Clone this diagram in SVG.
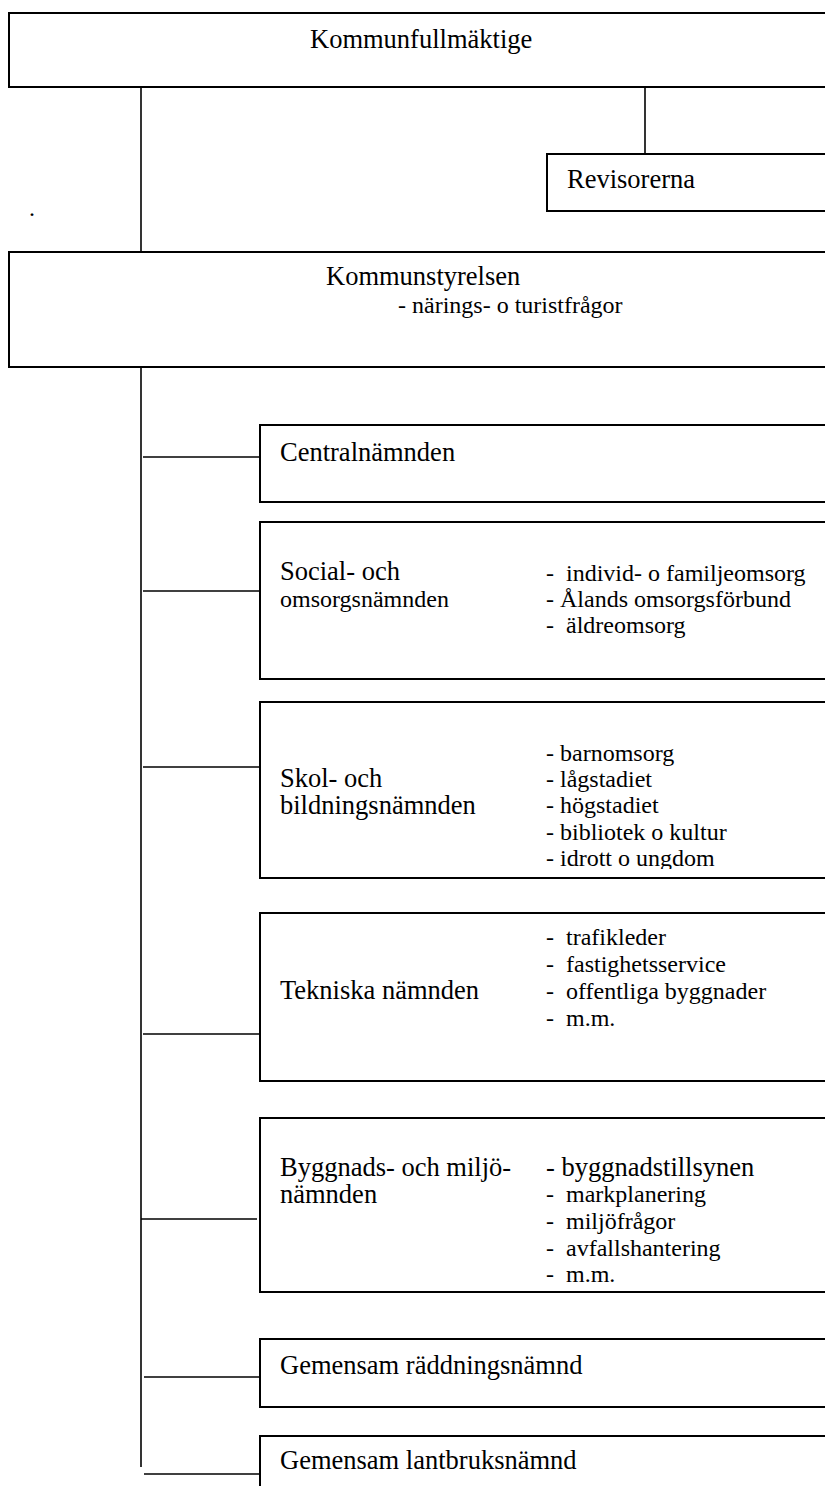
<svg xmlns="http://www.w3.org/2000/svg" width="825" height="1486" viewBox="0 0 825 1486">
<style>
.box{fill:#fff;stroke:#000;stroke-width:2}
.ln{stroke:#000;stroke-width:1.6;fill:none}
.t{font-family:'Liberation Serif','Times New Roman',Tinos,'DejaVu Serif',serif;font-size:26.5px;fill:#000}
.s{font-family:'Liberation Serif','Times New Roman',Tinos,'DejaVu Serif',serif;font-size:24px;fill:#000}
</style>
<defs>
<clipPath id="clipSkol"><rect x="260" y="702" width="570" height="167"/></clipPath>
</defs>
<g id="connectors">
<line class="ln" x1="141" y1="87" x2="141" y2="252"/>
<line class="ln" x1="645" y1="87" x2="645" y2="154"/>
<line class="ln" x1="141" y1="367" x2="141" y2="1467"/>
<line class="ln" x1="143" y1="457" x2="260" y2="457"/>
<line class="ln" x1="143" y1="591" x2="260" y2="591"/>
<line class="ln" x1="143" y1="767" x2="260" y2="767"/>
<line class="ln" x1="143" y1="1034" x2="260" y2="1034"/>
<line class="ln" x1="141" y1="1219" x2="257" y2="1219"/>
<line class="ln" x1="144" y1="1377" x2="260" y2="1377"/>
<line class="ln" x1="144" y1="1474" x2="260" y2="1474"/>
</g>
<g id="kommunfullmaktige">
<rect class="box" x="9" y="13" width="830" height="74"/>
<text class="t" x="310" y="48">Kommunfullmäktige</text>
</g>
<g id="revisorerna">
<rect class="box" x="547" y="154" width="290" height="57"/>
<text class="t" x="567" y="188">Revisorerna</text>
</g>
<g id="dot">
<text class="s" x="29" y="216">.</text>
</g>
<g id="kommunstyrelsen">
<rect class="box" x="9" y="252" width="830" height="115"/>
<text class="t" x="326" y="285">Kommunstyrelsen</text>
<text class="s" x="398" y="313">- närings- o turistfrågor</text>
</g>
<g id="centralnamnden">
<rect class="box" x="260" y="425" width="580" height="77"/>
<text class="t" x="280" y="461">Centralnämnden</text>
</g>
<g id="social">
<rect class="box" x="260" y="522" width="580" height="157"/>
<text class="t" x="280" y="580">Social- och</text>
<text class="s" x="280" y="607">omsorgsnämnden</text>
<text class="s" x="546" y="581" xml:space="preserve">-  individ- o familjeomsorg</text>
<text class="s" x="546" y="607">- Ålands omsorgsförbund</text>
<text class="s" x="546" y="633" xml:space="preserve">-  äldreomsorg</text>
</g>
<g id="skol">
<rect class="box" x="260" y="702" width="580" height="176"/>
<text class="t" x="280" y="787">Skol- och</text>
<text class="t" x="280" y="814">bildningsnämnden</text>
<text class="s" x="546" y="761">- barnomsorg</text>
<text class="s" x="546" y="787">- lågstadiet</text>
<text class="s" x="546" y="813">- högstadiet</text>
<text class="s" x="546" y="840">- bibliotek o kultur</text>
<text class="s" x="546" y="866" clip-path="url(#clipSkol)">- idrott o ungdom</text>
</g>
<g id="tekniska">
<rect class="box" x="260" y="913" width="580" height="168"/>
<text class="t" x="280" y="999">Tekniska nämnden</text>
<text class="s" x="546" y="945" xml:space="preserve">-  trafikleder</text>
<text class="s" x="546" y="972" xml:space="preserve">-  fastighetsservice</text>
<text class="s" x="546" y="999" xml:space="preserve">-  offentliga byggnader</text>
<text class="s" x="546" y="1026" xml:space="preserve">-  m.m.</text>
</g>
<g id="byggnads">
<rect class="box" x="260" y="1118" width="580" height="174"/>
<text class="t" x="280" y="1175.5">Byggnads- och miljö-</text>
<text class="t" x="280" y="1203">nämnden</text>
<text class="t" x="546" y="1175.5">- byggnadstillsynen</text>
<text class="s" x="546" y="1202" xml:space="preserve">-  markplanering</text>
<text class="s" x="546" y="1229" xml:space="preserve">-  miljöfrågor</text>
<text class="s" x="546" y="1256" xml:space="preserve">-  avfallshantering</text>
<text class="s" x="546" y="1282" xml:space="preserve">-  m.m.</text>
</g>
<g id="raddning">
<rect class="box" x="260" y="1339" width="580" height="68"/>
<text class="t" x="280" y="1374">Gemensam räddningsnämnd</text>
</g>
<g id="lantbruk">
<rect class="box" x="260" y="1436" width="580" height="80"/>
<text class="t" x="280" y="1469">Gemensam lantbruksnämnd</text>
</g>
</svg>
